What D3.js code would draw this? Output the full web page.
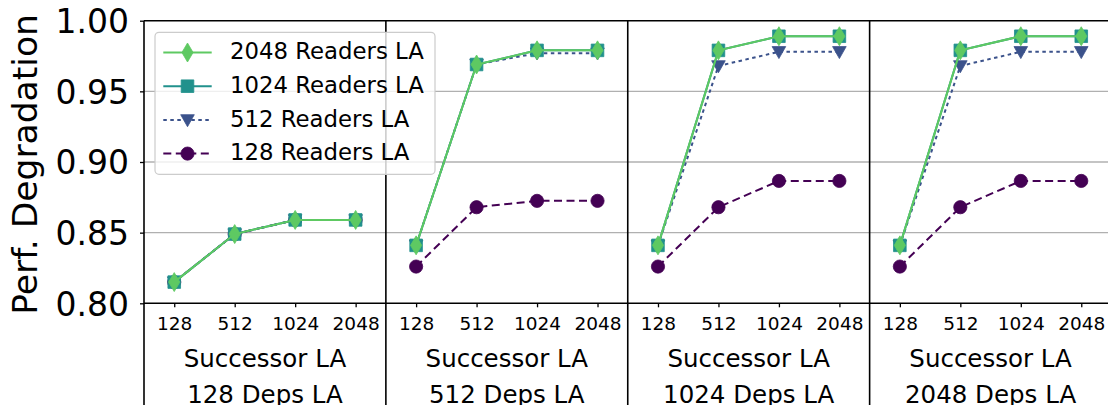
<!DOCTYPE html>
<html>
<head>
<meta charset="utf-8">
<script src="https://cdn.jsdelivr.net/npm/d3@7/dist/d3.min.js"></script>
<style>
    body { margin: 0; background: #fff; }
    text { font-family: "DejaVu Sans", sans-serif; fill: #000; }
</style>
</head>
<body>
<div id="chart"></div>
<script>
// x categories inside every panel, and the panels themselves
const successors = ["128", "512", "1024", "2048"];
const depsPanels = ["128 Deps LA", "512 Deps LA", "1024 Deps LA", "2048 Deps LA"];
const yTicks = [0.80, 0.85, 0.90, 0.95, 1.00];

// one row per panel (128, 512, 1024, 2048 Deps LA), one value per successor
const readers128 = [
    [0.815, 0.849, 0.859, 0.859],
    [0.826, 0.868, 0.8725, 0.8725],
    [0.826, 0.868, 0.8866, 0.8866],
    [0.826, 0.868, 0.8866, 0.8866]
];
const readers512 = [
    [0.815, 0.849, 0.859, 0.859],
    [0.841, 0.969, 0.977, 0.977],
    [0.841, 0.968, 0.978, 0.978],
    [0.841, 0.968, 0.978, 0.978]
];
const readers1024 = [
    [0.815, 0.849, 0.859, 0.859],
    [0.841, 0.969, 0.979, 0.979],
    [0.841, 0.979, 0.989, 0.989],
    [0.841, 0.979, 0.989, 0.989]
];
const readers2048 = [
    [0.815, 0.849, 0.859, 0.859],
    [0.841, 0.969, 0.979, 0.979],
    [0.841, 0.979, 0.989, 0.989],
    [0.841, 0.979, 0.989, 0.989]
];

// drawing order: 128 first so the 2048 line ends up on top
let series = [
    { name: "128 Readers LA", values: readers128, color: "#440154", dash: "8,4.5", marker: "circle" },
    { name: "512 Readers LA", values: readers512, color: "#3b528b", dash: "3.5,3.5", marker: "triangle" },
    { name: "1024 Readers LA", values: readers1024, color: "#21918c", dash: null, marker: "square" },
    { name: "2048 Readers LA", values: readers2048, color: "#5ec962", dash: null, marker: "diamond" }
];

const width = 1108, height = 405;
const plot = { left: 144, right: 1111.5, top: 20.7, bottom: 303.3 };

let svg = d3.select("#chart")
    .append("svg")
    .attr("width", width)
    .attr("height", height);

let y = d3.scaleLinear().domain([0.8, 1.0]).range([plot.bottom, plot.top]);
let panelX = d3.scaleBand().domain(depsPanels).range([plot.left, plot.right]);
let innerX = d3.scalePoint().domain(successors).range([0, panelX.bandwidth()]).padding(0.5);

// marker path generators
function markerPath(type) {
    if (type === "diamond") return "M0,-9.5L5.6,0L0,9.5L-5.6,0Z";
    if (type === "square") return "M-6.3,-6.3H6.3V6.3H-6.3Z";
    if (type === "triangle") return "M-6.8,-5.2H6.8L0,6.8Z";
    return d3.symbol().type(d3.symbolCircle).size(Math.PI * 6.6 * 6.6)();
}

// grid lines
svg.append("g")
    .selectAll("line")
    .data(yTicks.slice(1, -1))
    .enter()
    .append("line")
    .attr("x1", plot.left)
    .attr("x2", plot.right)
    .attr("y1", d => y(d))
    .attr("y2", d => y(d))
    .attr("stroke", "#b0b0b0")
    .attr("stroke-width", 1.4);

// frame: top + bottom spines
svg.append("line")
    .attr("x1", plot.left).attr("x2", plot.right)
    .attr("y1", plot.top).attr("y2", plot.top)
    .attr("stroke", "#000").attr("stroke-width", 1.6);
svg.append("line")
    .attr("x1", plot.left).attr("x2", plot.right)
    .attr("y1", plot.bottom).attr("y2", plot.bottom)
    .attr("stroke", "#000").attr("stroke-width", 1.6);

// panel dividers run down through the labels
svg.append("g")
    .selectAll("line")
    .data(depsPanels)
    .enter()
    .append("line")
    .attr("x1", d => panelX(d))
    .attr("x2", d => panelX(d))
    .attr("y1", plot.top)
    .attr("y2", height)
    .attr("stroke", "#000")
    .attr("stroke-width", 1.6);

// y axis
let yAxis = svg.append("g")
    .attr("transform", "translate(" + plot.left + ",0)")
    .call(d3.axisLeft(y).tickValues(yTicks).tickFormat(d3.format(".2f")).tickSize(4).tickPadding(11));
yAxis.select(".domain").remove();
yAxis.selectAll(".tick line").attr("stroke", "#000").attr("stroke-width", 1.3);
yAxis.selectAll(".tick text")
    .style("font-family", "DejaVu Sans")
    .style("font-size", "33px")
    .attr("dy", "0.36em");

svg.append("text")
    .attr("transform", "translate(37,164.5) rotate(-90)")
    .attr("text-anchor", "middle")
    .style("font-size", "34.5px")
    .text("Perf. Degradation");

// panels
depsPanels.forEach(function (dep, p) {
    let g = svg.append("g")
        .attr("transform", "translate(" + panelX(dep) + ",0)");

    let xAxis = g.append("g")
        .attr("transform", "translate(0," + plot.bottom + ")")
        .call(d3.axisBottom(innerX).tickSize(4).tickPadding(10));
    xAxis.select(".domain").remove();
    xAxis.selectAll(".tick line").attr("stroke", "#000").attr("stroke-width", 1.3);
    xAxis.selectAll(".tick text")
        .style("font-family", "DejaVu Sans")
        .style("font-size", "18.5px");

    g.append("text")
        .attr("x", panelX.bandwidth() / 2)
        .attr("y", 366.5)
        .attr("text-anchor", "middle")
        .style("font-size", "24.5px")
        .text("Successor LA");

    g.append("text")
        .attr("x", panelX.bandwidth() / 2)
        .attr("y", 403)
        .attr("text-anchor", "middle")
        .style("font-size", "24.5px")
        .text(dep);

    let line = d3.line()
        .x((d, i) => innerX(successors[i]))
        .y(d => y(d));

    series.forEach(function (s) {
        let vals = s.values[p];
        g.append("path")
            .datum(vals)
            .attr("d", line)
            .attr("fill", "none")
            .attr("stroke", s.color)
            .attr("stroke-width", 2)
            .attr("stroke-dasharray", s.dash);

        g.selectAll(null)
            .data(vals)
            .enter()
            .append("path")
            .attr("d", markerPath(s.marker))
            .attr("transform", (d, i) => "translate(" + innerX(successors[i]) + "," + y(d) + ")")
            .attr("fill", s.color)
            .attr("stroke", s.color)
            .attr("stroke-width", 0.8);
    });
});

// legend, listed from 2048 down to 128
let legendItems = series.slice().reverse();
let legend = svg.append("g");

legend.append("rect")
    .attr("x", 155)
    .attr("y", 32.3)
    .attr("width", 280)
    .attr("height", 142)
    .attr("rx", 4)
    .attr("fill", "#fff")
    .attr("fill-opacity", 0.8)
    .attr("stroke", "#cccccc")
    .attr("stroke-width", 1.2);

let rows = legend.selectAll(".legendRow")
    .data(legendItems)
    .enter()
    .append("g")
    .attr("class", "legendRow")
    .attr("transform", (d, i) => "translate(0," + (52.5 + i * 33.7) + ")");

rows.append("line")
    .attr("x1", 163.3)
    .attr("x2", 211.7)
    .attr("stroke", d => d.color)
    .attr("stroke-width", 2)
    .attr("stroke-dasharray", d => d.dash);

rows.append("path")
    .attr("d", d => markerPath(d.marker))
    .attr("transform", "translate(187.5,0)")
    .attr("fill", d => d.color)
    .attr("stroke", d => d.color)
    .attr("stroke-width", 0.8);

rows.append("text")
    .attr("x", 230)
    .attr("y", -1.5)
    .attr("dy", "0.36em")
    .style("font-size", "22.8px")
    .text(d => d.name);
</script>
</body>
</html>
